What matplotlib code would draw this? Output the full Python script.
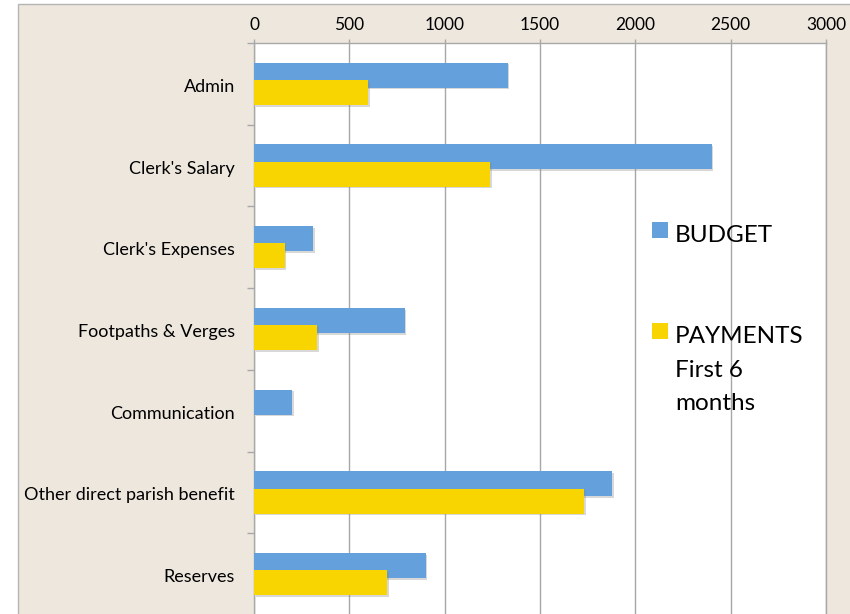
import numpy as np
import matplotlib.pyplot as plt
from matplotlib.patches import Rectangle
import matplotlib.patheffects as pe
import matplotlib.transforms as mtransforms

# Data
categories = ["Admin", "Clerk's Salary", "Clerk's Expenses", "Footpaths & Verges",
              "Communication", "Other direct parish benefit", "Reserves"]
budget = [1330, 2400, 310, 790, 200, 1880, 900]
payments = [600, 1240, 160, 330, 0, 1730, 700]
xticks = [0, 500, 1000, 1500, 2000, 2500, 3000]

blue = "#64A1DC"
yellow = "#F8D500"
beige = "#EDE7DE"
grid_gray = "#A8A8A8"

plt.rcParams["font.family"] = ["Lato", "DejaVu Sans"]

W, H = 850, 614
fig = plt.figure(figsize=(W / 100, H / 100), dpi=100)
fig.patch.set_facecolor("white")

# chart area background with thin border
fig.add_artist(Rectangle((18 / W, -0.01), 1.0, 1 - 4 / H + 0.01, transform=fig.transFigure,
                         facecolor=beige, edgecolor="#B5B5B5", lw=1, zorder=0))

ax = fig.add_axes([254 / W, 1 - 615 / H, (826 - 254) / W, (615 - 43) / H])
ax.set_facecolor("white")

y = np.arange(len(categories))
h = 0.306
shadow = [pe.SimplePatchShadow(offset=(1.2, -1.2), shadow_rgbFace="#808080", alpha=0.3), pe.Normal()]
b1 = ax.barh(y - 0.105, budget, height=h, color=blue, zorder=3)
b2 = ax.barh(y + 0.105, payments, height=h, color=yellow, zorder=4)
for bar in list(b1) + list(b2):
    bar.set_path_effects(shadow)

ax.set_xlim(0, 3000)
ax.set_ylim(len(categories) - 0.5, -0.5)

ax.xaxis.tick_top()
ax.set_xticks(xticks)
ax.set_xticklabels([str(v) for v in xticks], fontsize=12.5)
ax.tick_params(axis="x", direction="out", length=3, width=1, color=grid_gray, pad=4)
ax.grid(axis="x", color=grid_gray, lw=1, zorder=1)

ax.set_yticks(y)
ax.set_yticklabels(categories, fontsize=13, va="center")
ax.tick_params(axis="y", which="major", length=0, pad=13.7)
ax.set_yticks(np.arange(len(categories) + 1) - 0.5, minor=True)
ax.tick_params(axis="y", which="minor", direction="out", length=5, width=1, color=grid_gray)
# nudge category labels down a little, like the original
shift = mtransforms.ScaledTranslation(0, -3 / 100, fig.dpi_scale_trans)
for lbl in ax.get_yticklabels():
    lbl.set_transform(lbl.get_transform() + shift)

for side in ["top", "left", "right"]:
    ax.spines[side].set_color(grid_gray)
    ax.spines[side].set_linewidth(1)
ax.spines["bottom"].set_visible(False)

# legend drawn by hand to match the layout
def fx(px):
    return px / W

def fy(py):
    return 1 - py / H

fig.add_artist(Rectangle((fx(652), fy(238)), 16 / W, 16 / H, transform=fig.transFigure,
                         facecolor=blue, edgecolor="none", zorder=5))
fig.text(fx(675), fy(242), "BUDGET", fontsize=17.5, va="baseline", ha="left", zorder=6)
fig.add_artist(Rectangle((fx(652), fy(339)), 16 / W, 16 / H, transform=fig.transFigure,
                         facecolor=yellow, edgecolor="none", zorder=5))
fig.text(fx(675), fy(343), "PAYMENTS", fontsize=17.5, va="baseline", ha="left", zorder=6)
fig.text(fx(675), fy(377), "First 6", fontsize=17.5, va="baseline", ha="left", zorder=6)
fig.text(fx(675), fy(410), "months", fontsize=17.5, va="baseline", ha="left", zorder=6)

fig.savefig("out.png", dpi=100, facecolor=fig.get_facecolor())
